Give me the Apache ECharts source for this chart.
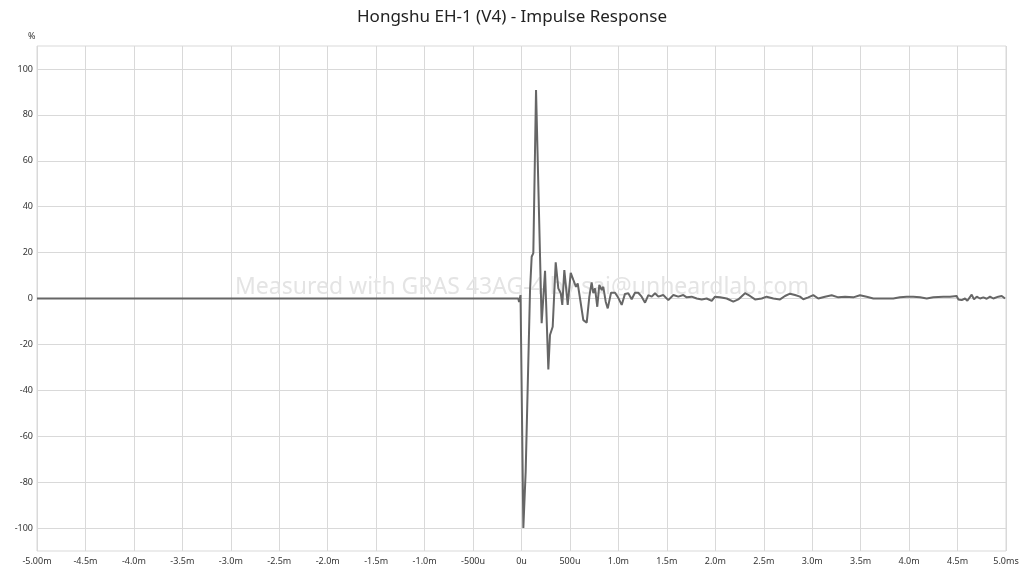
<!DOCTYPE html>
<html>
<head>
<meta charset="utf-8">
<title>Hongshu EH-1 (V4) - Impulse Response</title>
<script src="https://cdn.jsdelivr.net/npm/echarts@6/dist/echarts.min.js"></script>
<style>
  html, body { margin: 0; padding: 0; background: #fff; }
  #chartData { width: 1024px; height: 572px; }
</style>
</head>
<body>
<div id="chartData"></div>
<script>
// time in ms, response in %
var timeMs = [
  -5.0, -0.033, -0.025, -0.010, 0.019, 0.043, 0.088, 0.105, 0.122, 0.150,
  0.208, 0.243, 0.277, 0.294, 0.322, 0.353, 0.380, 0.405, 0.421, 0.442,
  0.459, 0.477, 0.508, 0.535, 0.562, 0.580, 0.604, 0.638, 0.673, 0.700,
  0.724, 0.741, 0.759, 0.782, 0.803, 0.828, 0.844, 0.869, 0.890, 0.924,
  0.965, 0.999, 1.034, 1.068, 1.102, 1.137, 1.171, 1.205, 1.240, 1.275,
  1.309, 1.344, 1.378, 1.412, 1.463, 1.515, 1.567, 1.618, 1.670, 1.705,
  1.756, 1.808, 1.860, 1.911, 1.963, 1.997, 2.049, 2.118, 2.186, 2.237,
  2.307, 2.358, 2.410, 2.479, 2.530, 2.599, 2.668, 2.719, 2.771, 2.823,
  2.874, 2.908, 2.960, 3.011, 3.063, 3.132, 3.201, 3.269, 3.339, 3.424,
  3.493, 3.562, 3.631, 3.700, 3.769, 3.837, 3.906, 3.975, 4.043, 4.113,
  4.182, 4.250, 4.353, 4.422, 4.491, 4.508, 4.543, 4.577, 4.601, 4.646,
  4.670, 4.698, 4.732, 4.766, 4.801, 4.835, 4.869, 4.921, 4.956, 4.990
];
var responsePct = [
  0, 0, -1.5, 1.5, -100, -75.5, 3.5, 18.2, 19.8, 90.8,
  -10.8, 12.1, -30.9, -15.9, -12.3, 15.8, 4.4, 2.3, -2.8, 12.4,
  5.1, -2.8, 11.2, 8.1, 5.1, 6.6, 0, -9.4, -10.5, 0.8,
  7.0, 2.3, 4.4, -3.6, 5.9, 3.7, 5.1, -1.4, -4.3, 2.5,
  2.5, 0.3, -2.8, 2.0, 2.3, -0.3, 2.5, 2.5, 0.8, -1.8,
  1.5, 0.8, 2.3, 0.8, 1.5, -0.7, 1.5, 0.8, 1.5, 0.5,
  0.8, 0, -0.4, 0, -1.0, 0.8, 0.5, 0, -1.4, -0.4,
  2.3, 1.1, -0.4, 0, 0.8, 0, -0.4, 1.1, 2.1, 1.5,
  0.8, -0.3, 0.5, 1.5, 0, 0.8, 1.4, 0.5, 0.8, 0.5,
  1.4, 0.8, 0, 0, 0, 0, 0.5, 0.8, 0.8, 0.5,
  0, 0.5, 0.8, 0.8, 1.1, -0.4, -0.7, 0, -1.0, 1.7,
  -0.4, 0.8, 0, 0.5, -0.1, 0.8, 0, 0.8, 1.1, 0
];

var xTickValues = [-5, -4.5, -4, -3.5, -3, -2.5, -2, -1.5, -1, -0.5, 0, 0.5, 1, 1.5, 2, 2.5, 3, 3.5, 4, 4.5, 5];
var xTickLabels = ['-5.00m', '-4.5m', '-4.0m', '-3.5m', '-3.0m', '-2.5m', '-2.0m', '-1.5m', '-1.0m', '-500u',
                   '0u', '500u', '1.0m', '1.5m', '2.0m', '2.5m', '3.0m', '3.5m', '4.0m', '4.5m', '5.0ms'];
var yTickValues = [-100, -80, -60, -40, -20, 0, 20, 40, 60, 80, 100];

var seriesdata = timeMs.map(function (t, i) { return [t, responsePct[i]]; });

var myChart = echarts.init(document.getElementById('chartData'));

var gridColor = '#d9d9d9';
var labelFont = 'Noto Sans';

var option = {
    animation: false,
    backgroundColor: '#fff',
    title: {
        text: 'Hongshu EH-1 (V4) - Impulse Response',
        left: 'center',
        top: 4,
        textStyle: {
            fontFamily: labelFont,
            fontSize: 17,
            fontWeight: 'normal',
            color: '#222'
        }
    },
    graphic: [{
        // watermark
        type: 'text',
        left: 235,
        top: 276,
        z: 1,
        style: {
            text: 'Measured with GRAS 43AG-4 by sai@unheardlab.com',
            fontFamily: labelFont,
            fontSize: 23,
            fill: '#e4e4e4'
        }
    }, {
        // y unit
        type: 'text',
        left: 28,
        top: 32,
        style: {
            text: '%',
            fontFamily: labelFont,
            fontSize: 9,
            fill: '#333'
        }
    }],
    grid: {
        left: 37,
        right: 18,
        top: 46,
        bottom: 21,
        show: true,
        borderColor: gridColor,
        borderWidth: 1
    },
    xAxis: {
        type: 'value',
        min: -5,
        max: 5,
        interval: 0.5,
        axisLine: { show: false },
        axisTick: { show: false },
        splitLine: { show: true, lineStyle: { color: gridColor, width: 1 } },
        axisLabel: {
            fontFamily: labelFont,
            fontSize: 9,
            color: '#333',
            margin: 6,
            formatter: function (v) {
                var i = xTickValues.indexOf(Math.round(v * 10) / 10);
                return i >= 0 ? xTickLabels[i] : '';
            }
        }
    },
    yAxis: {
        type: 'value',
        min: -110,
        max: 110,
        axisLine: { show: false },
        axisTick: { show: false, customValues: yTickValues },
        splitLine: { show: true, lineStyle: { color: gridColor, width: 1 } },
        axisLabel: {
            fontFamily: labelFont,
            fontSize: 9,
            color: '#333',
            margin: 4,
            customValues: yTickValues
        }
    },
    series: [{
        name: 'Impulse',
        type: 'line',
        data: seriesdata,
        symbol: 'none',
        z: 3,
        lineStyle: { color: '#666', width: 2 }
    }]
};

myChart.setOption(option);
</script>
</body>
</html>
